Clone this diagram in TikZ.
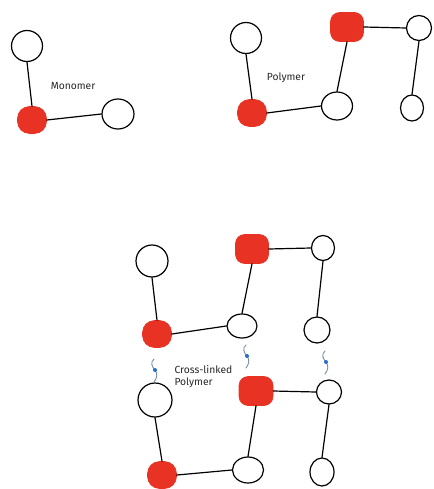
\documentclass[tikz,border=0pt]{standalone}
\usepackage{fontspec}
\setmainfont{Fira Sans}
\usetikzlibrary{shapes.geometric,calc}
\definecolor{beadred}{RGB}{232,50,36}
\definecolor{linkblue}{RGB}{40,110,200}
\definecolor{linkgray}{RGB}{120,140,160}
\tikzset{
  ring/.style={draw=black, line width=1.2pt, ellipse, inner sep=0pt, minimum width=#1, minimum height=#1},
  ring/.default=30pt,
  bead/.style={fill=beadred, draw=beadred, line width=0.6pt, rounded corners=12pt, inner sep=0pt, minimum width=29pt, minimum height=27pt},
  blockbead/.style={bead, rounded corners=9pt, minimum width=33pt, minimum height=29pt},
  bond/.style={draw=black, line width=1.2pt, line cap=round},
  label/.style={font=\fontsize{10.3}{12}\selectfont, text=black!85, align=left},
  tether/.style={draw=linkgray, line width=0.9pt, line cap=round},
  knot/.style={circle, fill=linkblue, inner sep=0pt, minimum size=4pt}
}
\newcommand{\crosslink}[1]{%
  \draw[tether] ($(#1)+(-1,-11)$) .. controls ($(#1)+(-5,-8)$) and ($(#1)+(-3,-3)$) .. ($(#1)+(0,0)$)
    .. controls ($(#1)+(3,4)$) and ($(#1)+(2,8)$) .. ($(#1)+(-1,12)$);
  \node[knot] at (#1) {};
}
\begin{document}
\begin{tikzpicture}[x=1pt,y=-1pt]
\useasboundingbox (0,0) rectangle (433,489);

% ---- monomer ----
\node[ring=31pt] (m1) at (27,46) {};
\node[bead] (m2) at (32,120) {};
\node[ring=30pt, minimum width=32pt] (m3) at (118,114) {};
\draw[bond] (m1.south) -- (m2.north);
\draw[bond] (m2.east) -- (m3.west);
\node[label] (mt) at (73,86) {Monomer};

% ---- linear polymer ----
\node[ring=31pt] (p1) at (246,38) {};
\node[bead] (p2) at (252,113) {};
\node[ring=28pt, minimum width=31pt] (p3) at (337,106) {};
\node[blockbead] (p4) at (347,27) {};
\node[ring=25pt] (p5) at (419,28) {};
\node[ring=26pt, minimum width=23pt] (p6) at (412,108) {};
\draw[bond] (p1.south) -- (p2.north);
\draw[bond] (p2.east) -- (p3.west);
\draw[bond] (p3.north) -- (p4.south);
\draw[bond] (p4.east) -- (p5.west);
\draw[bond] (p5.south) -- (p6.north);
\node[label] (pt) at (286,78) {Polymer};

% ---- cross-linked polymer: upper chain ----
\node[ring=32pt] (a1) at (152,261) {};
\node[bead] (a2) at (157,334) {};
\node[ring=24pt, minimum width=30pt] (a3) at (242,326) {};
\node[blockbead] (a4) at (252,249) {};
\node[ring=25pt, minimum width=23pt] (a5) at (323,248) {};
\node[ring=26pt, minimum width=26pt] (a6) at (317,330) {};
\draw[bond] (a1.south) -- (a2.north);
\draw[bond] (a2.east) -- (a3.west);
\draw[bond] (a3.north) -- (a4.south);
\draw[bond] (a4.east) -- (a5.west);
\draw[bond] (a5.south) -- (a6.north);

% ---- cross-linked polymer: lower chain ----
\node[ring=34pt] (b1) at (155,400) {};
\node[bead] (b2) at (162,475) {};
\node[ring=26pt, minimum width=31pt] (b3) at (248,470) {};
\node[blockbead, minimum width=34pt] (b4) at (256,391) {};
\node[ring=24pt, minimum width=25pt] (b5) at (329,392) {};
\node[ring=28pt, minimum width=24pt] (b6) at (322,472) {};
\draw[bond] (b1.south) -- (b2.north);
\draw[bond] (b2.east) -- (b3.west);
\draw[bond] (b3.north) -- (b4.south);
\draw[bond] (b4.east) -- (b5.west);
\draw[bond] (b5.south) -- (b6.north);

% ---- links between the chains ----
\coordinate (x1) at (155,370);
\coordinate (x2) at (247,356);
\coordinate (x3) at (326,362);
\crosslink{x1}
\crosslink{x2}
\crosslink{x3}

\node[label, anchor=west] (ct) at (171,377) {Cross-linked\\Polymer};
\end{tikzpicture}
\end{document}
